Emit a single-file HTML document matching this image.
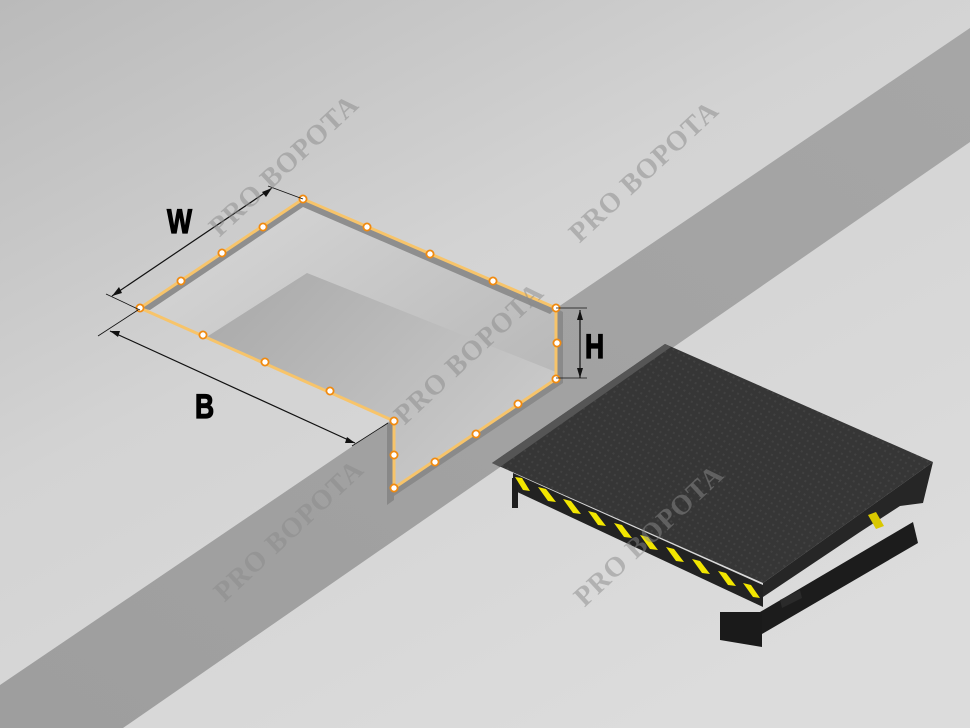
<!DOCTYPE html>
<html><head><meta charset="utf-8"><style>
html,body{margin:0;padding:0;width:970px;height:728px;overflow:hidden;}
svg{display:block}
</style></head><body>
<svg width="970" height="728" viewBox="0 0 970 728" xmlns="http://www.w3.org/2000/svg">
<defs>
<linearGradient id="bg" x1="0" y1="0" x2="0.7" y2="1">
<stop offset="0" stop-color="#bababa"/><stop offset="0.45" stop-color="#d3d3d3"/><stop offset="1" stop-color="#dcdcdc"/>
</linearGradient>
<linearGradient id="band" x1="0" y1="1" x2="1" y2="0">
<stop offset="0" stop-color="#9e9e9e"/><stop offset="1" stop-color="#a6a6a6"/>
</linearGradient>
<linearGradient id="pitwall" x1="0" y1="0" x2="1" y2="1">
<stop offset="0" stop-color="#dadada"/><stop offset="1" stop-color="#b0b0b0"/>
</linearGradient>
<linearGradient id="floor" x1="0" y1="0" x2="1" y2="0.6">
<stop offset="0" stop-color="#a8a8a8"/><stop offset="1" stop-color="#cacaca"/>
</linearGradient>
<pattern id="plate" width="6" height="6" patternUnits="userSpaceOnUse" patternTransform="rotate(30)">
<rect width="6" height="6" fill="#363636"/><rect x="1" y="1" width="2" height="2" fill="#414141"/>
</pattern>
</defs>
<rect width="970" height="728" fill="url(#bg)"/>
<polygon points="0,685 970,28 970,142 123,728 0,728" fill="url(#band)"/>
<polygon points="140,308 303,199 556,308 556,379 394,488 394,421" fill="url(#pitwall)"/>
<polygon points="307,273 556,372 556,379 394,488 394,421 205,338" fill="url(#floor)"/>
<polygon points="140,308 303,199 556,308 550,314 303,207 150,310" fill="#8e8e8e"/>
<polygon points="556,308 556,379 394,488 394,496 563,383 563,312" fill="#8a8a8a"/>
<polygon points="387,424 394,421 394,500 387,505" fill="#888"/>
<polyline points="140,308 303,199 556,308 556,379 394,488 394,421 140,308" fill="none" stroke="#f7c46a" stroke-width="3" stroke-linejoin="round"/>
<g fill="#fff" stroke="#f08a10" stroke-width="1.8">
<circle cx="140" cy="308" r="3.6"/><circle cx="181" cy="281" r="3.6"/><circle cx="222" cy="253" r="3.6"/><circle cx="263" cy="227" r="3.6"/>
<circle cx="303" cy="199" r="3.6"/><circle cx="367" cy="227" r="3.6"/><circle cx="430" cy="254" r="3.6"/><circle cx="493" cy="281" r="3.6"/>
<circle cx="556" cy="308" r="3.6"/><circle cx="557" cy="343" r="3.6"/><circle cx="556" cy="379" r="3.6"/>
<circle cx="518" cy="404" r="3.6"/><circle cx="476" cy="434" r="3.6"/><circle cx="435" cy="462" r="3.6"/>
<circle cx="394" cy="488" r="3.6"/><circle cx="394" cy="455" r="3.6"/><circle cx="394" cy="421" r="3.6"/>
<circle cx="330" cy="391" r="3.6"/><circle cx="265" cy="362" r="3.6"/><circle cx="203" cy="335" r="3.6"/>
</g>
<g stroke="#111" stroke-width="1.2" fill="none">
<line x1="112" y1="296" x2="272" y2="188"/>
<line x1="106" y1="294" x2="140" y2="310" stroke-width="0.8"/>
<line x1="268" y1="186" x2="303" y2="199" stroke-width="0.8"/>
<line x1="110" y1="331" x2="355" y2="443"/>
<line x1="98" y1="336" x2="138" y2="310" stroke-width="0.8"/>
<line x1="352" y1="446" x2="388" y2="423" stroke-width="0.8"/>
<line x1="580" y1="310" x2="580" y2="378"/>
<line x1="556" y1="308" x2="587" y2="308" stroke-width="0.8"/>
<line x1="556" y1="378" x2="587" y2="378" stroke-width="0.8"/>
</g>
<g fill="#111">
<polygon points="112,296 119,287 122,293"/>
<polygon points="272,188 262,192 266,197"/>
<polygon points="110,331 120,331 118,337"/>
<polygon points="355,443 345,443 347,437"/>
<polygon points="580,310 577,320 583,320"/>
<polygon points="580,378 577,368 583,368"/>
</g>
<g font-family="Liberation Sans, sans-serif" font-weight="bold" font-size="34" fill="#000" stroke="#000" stroke-width="1.2">
<text transform="translate(167,233) scale(0.78,1)">W</text>
<text transform="translate(195,418) scale(0.78,1)">B</text>
<text transform="translate(585,358) scale(0.78,1)">H</text>
</g>
<!-- dock leveler -->
<polygon points="760,612 913,522 918,543 762,634" fill="#1c1c1c"/>
<polygon points="780,600 800,590 802,598 782,608" fill="#2a2a2a"/>
<polygon points="763,583 933,462 923,503 900,506 860,532 763,597" fill="#262626"/>
<polygon points="720,612 762,612 762,647 720,640" fill="#1a1a1a"/>
<polygon points="513,473 763,585 763,607 513,490" fill="#222"/>
<rect x="512" y="478" width="6" height="30" fill="#1e1e1e"/>
<polygon points="492,463 665,344 933,462 763,583" fill="url(#plate)"/>
<polygon points="492,463 665,344 671,347 500,467" fill="#555"/>
<g fill="#f2e600">
<polygon points="515,477 522,478 530,491 523,490"/>
<polygon points="538,487 546,489 556,502 548,501"/>
<polygon points="563,499 571,501 581,514 573,513"/>
<polygon points="588,511 596,513 606,526 598,525"/>
<polygon points="614,523 622,525 632,538 624,537"/>
<polygon points="640,535 648,537 658,550 650,549"/>
<polygon points="666,547 674,549 684,562 676,561"/>
<polygon points="692,559 700,561 710,574 702,573"/>
<polygon points="718,571 726,573 736,586 728,585"/>
<polygon points="743,583 751,585 760,598 753,597"/>
</g>
<polygon points="868,515 876,512 884,526 876,529" fill="#d9c800"/>
<g font-family="Liberation Serif, serif" font-weight="bold" font-size="28" fill="#8a8a8a" fill-opacity="0.5" text-anchor="middle" letter-spacing="1">
<text transform="translate(290,172) rotate(-43)">PRO ВОРОТА</text>
<text transform="translate(650,178) rotate(-43)">PRO ВОРОТА</text>
<text transform="translate(475,360) rotate(-43)">PRO ВОРОТА</text>
<text transform="translate(295,537) rotate(-43)">PRO ВОРОТА</text>
<text transform="translate(655,542) rotate(-43)">PRO ВОРОТА</text>
</g>
</svg>
</body></html>
